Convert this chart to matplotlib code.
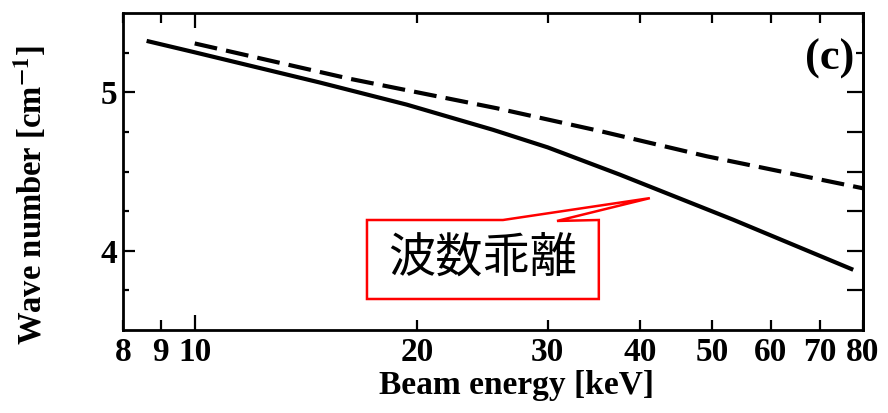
import matplotlib
matplotlib.use("Agg")
import matplotlib.pyplot as plt
from matplotlib.patches import Polygon
from matplotlib.ticker import NullFormatter

# ---- data ----
solid_E = [8.61, 10, 14.77, 19.34, 25.3, 30, 37.55, 53.4, 77.6]
solid_k = [5.324, 5.252, 5.061, 4.922, 4.763, 4.652, 4.480, 4.196, 3.880]
dash_E = [10, 16.2, 25.6, 35.3, 49.2, 80]
dash_k = [5.308, 5.085, 4.899, 4.755, 4.596, 4.394]
x_major = [10]
x_minor = [8, 9, 20, 30, 40, 50, 60, 70, 80]
y_major = [4, 5]
y_minor = [3.75, 4.25, 4.5, 4.75, 5.25]
annotation = "波数乖離"
panel = "(c)"

serif = ["Liberation Serif", "DejaVu Serif"]
plt.rcParams["font.family"] = serif
plt.rcParams["font.weight"] = "bold"
plt.rcParams["mathtext.fontset"] = "stix"

fig = plt.figure(figsize=(8.88, 4.13), dpi=100)
ax = fig.add_axes([123/888, 83/413, 740/888, 317/413])

ax.plot(solid_E, solid_k, color="black", lw=3, solid_capstyle="butt")
ax.plot(dash_E, dash_k, color="black", lw=3, dashes=(5.5, 2.2), dash_capstyle="butt")

ax.set_xscale("log")
ax.set_xlim(8, 80)
ax.set_ylim(3.5, 5.5)

ax.set_xticks(x_major, labels=[str(v) for v in x_major])
ax.set_xticks(x_minor, labels=[str(v) for v in x_minor], minor=True)
ax.set_yticks(y_major, labels=[str(v) for v in y_major])
ax.set_yticks(y_minor, minor=True)
ax.yaxis.set_minor_formatter(NullFormatter())

for s in ax.spines.values():
    s.set_linewidth(2)

ax.tick_params(axis="x", which="major", direction="in", length=11, width=1.6,
               top=True, labelsize=24, pad=5)
ax.tick_params(axis="x", which="minor", direction="in", length=7.5, width=1.6,
               top=True, labelsize=24, pad=5)
ax.tick_params(axis="y", which="major", direction="in", length=8.5, width=1.6,
               labelsize=24, pad=4, right=False)
ax.tick_params(axis="y", which="minor", direction="in", length=4.5, width=1.6,
               right=False)
for lab in ax.get_xticklabels(which="both") + ax.get_yticklabels():
    lab.set_fontweight("bold")

sec = ax.secondary_yaxis("right")
sec.set_yticks(y_major)
sec.set_yticks(y_minor, minor=True)
sec.tick_params(which="both", direction="in", length=11.5, width=1.6,
                labelright=False)
sec.spines["right"].set_linewidth(2)

ax.set_xlabel("Beam energy [keV]", fontsize=24, fontweight="bold")
ax.xaxis.set_label_coords(0.532, -0.125)
ax.xaxis.label.set_va("top")
ax.set_ylabel("Wave number [cm$^{\\mathbf{-1}}$]", fontsize=23.5, fontweight="bold")
ax.yaxis.set_label_coords(-0.1, 0.426)

ax.text(0.989, 0.855, panel, transform=ax.transAxes, ha="right", va="center",
        fontsize=32, fontweight="bold",
        bbox=dict(facecolor="white", edgecolor="none", pad=1), zorder=5)

poly = [(0.3297, 0.347), (0.5135, 0.347), (0.712, 0.416), (0.5865, 0.344),
        (0.643, 0.347), (0.643, 0.0978), (0.3297, 0.0978)]
ax.add_patch(Polygon(poly, closed=True, transform=ax.transAxes, facecolor="white",
                     edgecolor="red", lw=1.8, zorder=4))
ax.text(0.486, 0.2224, annotation, transform=ax.transAxes, ha="center", va="center",
        fontsize=34, fontweight="normal", family=["Noto Sans CJK JP", "DejaVu Sans"],
        zorder=6)

fig.savefig("out.png", dpi=100, facecolor="white")
